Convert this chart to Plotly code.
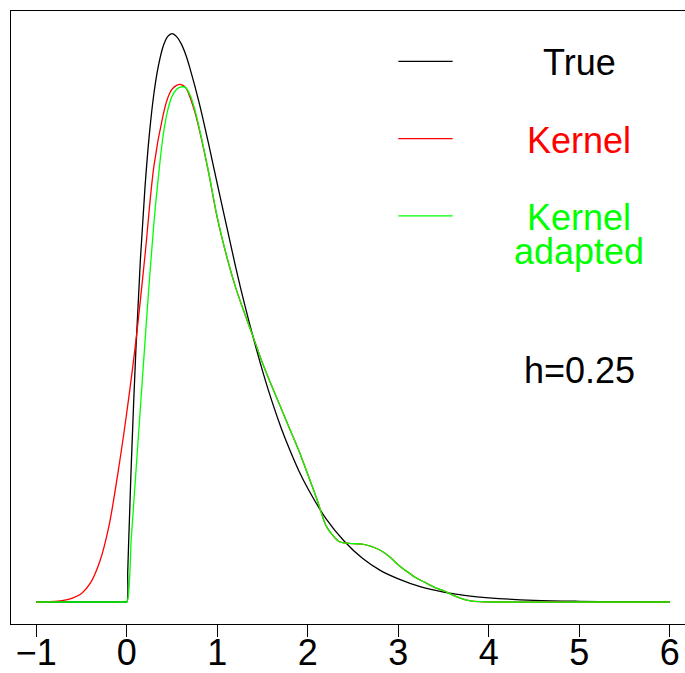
import plotly.graph_objects as go

# ---- data ----
true_x = [-1.0, -0.02, 0.0, 0.01, 0.02, 0.05, 0.1, 0.15, 0.2, 0.25, 0.3, 0.35, 0.4, 0.45, 0.5,
          0.55, 0.6, 0.65, 0.7, 0.8, 0.9, 1.0, 1.1, 1.2, 1.3, 1.4, 1.5, 1.6, 1.7, 1.8,
          1.9, 2.0, 2.2, 2.4, 2.6, 2.8, 3.0, 3.25, 3.5, 3.75, 4.0, 4.5, 5.0, 5.5, 6.0]
true_y = [0.0, 0.0, 0.0, 0.039, 0.077, 0.181, 0.327, 0.444, 0.536, 0.607, 0.659, 0.695, 0.719,
          0.732, 0.736, 0.732, 0.723, 0.709, 0.690, 0.646, 0.595, 0.541, 0.488, 0.435,
          0.386, 0.341, 0.299, 0.261, 0.227, 0.197, 0.170, 0.147, 0.108, 0.079, 0.057,
          0.041, 0.030, 0.0195, 0.0128, 0.0083, 0.0054, 0.0022, 0.0009, 0.0004, 0.0002]

kernel_x = [-1.0, -0.9, -0.8, -0.7, -0.6, -0.5, -0.4, -0.3, -0.2, -0.1, 0.0, 0.1, 0.2,
            0.3, 0.4, 0.45, 0.5, 0.55, 0.6, 0.65, 0.7, 0.75, 0.8, 0.9, 1.0, 1.1, 1.2,
            1.3, 1.4, 1.5, 1.6, 1.7, 1.8, 1.9, 2.0, 2.1, 2.2, 2.25, 2.3, 2.35, 2.4, 2.5,
            2.6, 2.7, 2.8, 2.9, 3.0, 3.1, 3.2, 3.3, 3.4, 3.5, 3.6, 3.7, 3.8, 3.9, 4.0,
            5.0, 6.0]
kernel_y = [0.0, 0.0002, 0.0008, 0.002, 0.005, 0.011, 0.025, 0.052, 0.097, 0.166, 0.246,
            0.338, 0.448, 0.565, 0.630, 0.652, 0.664, 0.669, 0.670, 0.666, 0.653, 0.635,
            0.612, 0.558, 0.497, 0.449, 0.408, 0.374, 0.342, 0.309, 0.280, 0.252, 0.224,
            0.196, 0.165, 0.133, 0.099, 0.090, 0.083, 0.078, 0.0765, 0.0755, 0.075, 0.072,
            0.067, 0.059, 0.048, 0.039, 0.031, 0.025, 0.019, 0.0146, 0.009, 0.0045,
            0.0015, 0.0004, 0.0, 0.0, 0.0]

adapted_x = [-1.0, -0.02, 0.0, 0.05, 0.1, 0.15, 0.2, 0.25, 0.3, 0.35, 0.4, 0.45, 0.5, 0.55, 0.6,
             0.65, 0.7, 0.75, 0.8, 0.9, 1.0, 1.1, 1.2, 1.3, 1.4, 1.5, 1.6, 1.7, 1.8, 1.9,
             2.0, 2.1, 2.2, 2.25, 2.3, 2.35, 2.4, 2.5, 2.6, 2.7, 2.8, 2.9, 3.0, 3.1, 3.2,
             3.3, 3.4, 3.5, 3.6, 3.7, 3.8, 3.9, 4.0, 5.0, 6.0]
adapted_y = [0.0, 0.0, 0.0, 0.084, 0.168, 0.252, 0.336, 0.418, 0.492, 0.552, 0.603, 0.636,
             0.655, 0.664, 0.667, 0.666, 0.656, 0.638, 0.614, 0.559, 0.498, 0.449, 0.408,
             0.374, 0.342, 0.309, 0.280, 0.252, 0.224, 0.196, 0.165, 0.133, 0.099, 0.090,
             0.083, 0.078, 0.0765, 0.0755, 0.075, 0.072, 0.067, 0.059, 0.048, 0.039,
             0.031, 0.025, 0.019, 0.0146, 0.009, 0.0045, 0.0015, 0.0004, 0.0, 0.0, 0.0]

x_ticks = [-1, 0, 1, 2, 3, 4, 5, 6]
legend_labels = ["True", "Kernel", "Kernel adapted"]
legend_colors = ["black", "#FF0000", "#00FF00"]
bandwidth_label = "h=0.25"

FONT = "Liberation Sans, Arial, Helvetica, sans-serif"
FS = 36
LW = 1.3

fig = go.Figure()
for xs, ys, col in [(true_x, true_y, legend_colors[0]),
                    (kernel_x, kernel_y, legend_colors[1]),
                    (adapted_x, adapted_y, legend_colors[2])]:
    fig.add_trace(go.Scatter(x=xs, y=ys, mode="lines",
                             line=dict(color=col, width=LW, shape="spline", smoothing=1)))

# legend line segments
for yy, col in zip([0.70, 0.60, 0.50], legend_colors):
    fig.add_shape(type="line", xref="x", yref="y", x0=3.0, x1=3.6, y0=yy, y1=yy,
                  line=dict(color=col, width=LW))

# legend texts
fig.add_annotation(x=5.0, y=0.6985, xref="x", yref="y", text=legend_labels[0],
                   showarrow=False, xanchor="center", yanchor="middle",
                   font=dict(family=FONT, size=FS, color=legend_colors[0]))
fig.add_annotation(x=5.0, y=0.5975, xref="x", yref="y", text=legend_labels[1],
                   showarrow=False, xanchor="center", yanchor="middle",
                   font=dict(family=FONT, size=FS, color=legend_colors[1]))
# two-line label with tight line spacing (line spacing = 1.3 * 26px)
two_line = "<br>".join('<span style="font-size:%dpx">%s</span>' % (FS, w)
                       for w in legend_labels[2].split(" "))
fig.add_annotation(x=5.0, y=0.4759, xref="x", yref="y", text=two_line,
                   showarrow=False, xanchor="center", yanchor="middle", align="center",
                   font=dict(family=FONT, size=26, color=legend_colors[2]))
fig.add_annotation(x=5.0, y=0.2993, xref="x", yref="y", text=bandwidth_label,
                   showarrow=False, xanchor="center", yanchor="middle",
                   font=dict(family=FONT, size=FS, color="black"))

fig.update_layout(
    width=685, height=673,
    margin=dict(l=11, r=0, t=11, b=49, pad=0),
    paper_bgcolor="white", plot_bgcolor="white",
    showlegend=False,
    font=dict(family=FONT, size=FS, color="black"),
    xaxis=dict(range=[-1.28, 6.1675], tickmode="array", tickvals=x_ticks,
               ticktext=["\u2212" + str(abs(t)) if t < 0 else str(t) for t in x_ticks],
               ticks="outside", ticklen=12, tickwidth=1, tickcolor="black",
               ticklabelstandoff=-15,
               showline=True, linecolor="black", linewidth=1, mirror=True,
               showgrid=False, zeroline=False, automargin=False,
               tickfont=dict(family=FONT, size=FS, color="black")),
    yaxis=dict(range=[-0.0285, 0.7652], showline=True, linecolor="black", linewidth=1,
               mirror=False, showticklabels=False, ticks="", showgrid=False,
               zeroline=False, automargin=False),
)

fig.write_html("out.html")
